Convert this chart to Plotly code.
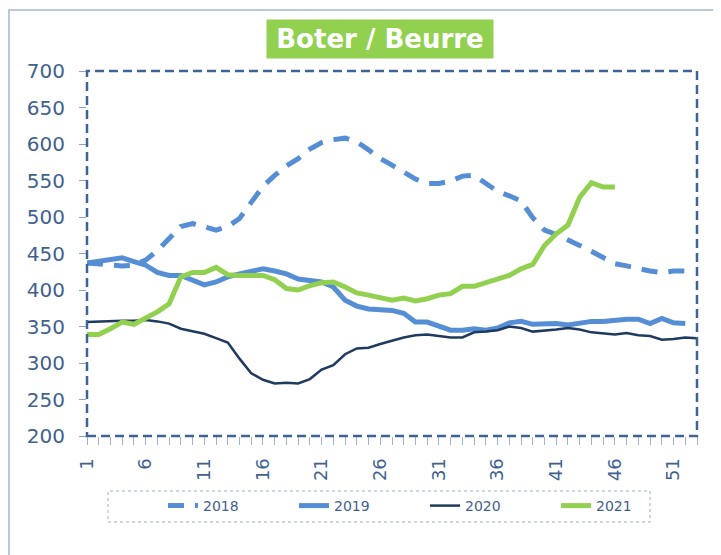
import plotly.graph_objects as go

weeks = list(range(1, 54))

v2018 = [437, 436, 434, 433, 434, 441, 454, 470, 487, 491,
         487, 482, 487, 498, 520, 542, 557, 570, 580, 593,
         602, 606, 608, 603, 592, 580, 571, 561, 552, 546,
         546, 549, 556, 557, 547, 535, 529, 522, 499, 482,
         476, 469, 461, 453, 444, 436, 433, 429, 426, 424,
         426, 426]

v2019 = [437, 439, 441, 444, 439, 434, 424, 420, 420, 413,
         407, 411, 418, 422, 425, 429, 426, 422, 415, 413,
         411, 404, 386, 378, 374, 373, 372, 368, 356, 356,
         350, 345, 345, 347, 345, 348, 355, 357, 353, 354,
         354, 352, 354, 357, 357, 359, 360, 360, 354, 361,
         355, 354]

v2020 = [356, 357, 358, 358, 358, 359, 357, 354, 347, 344,
         340, 334, 328, 306, 286, 277, 272, 273, 272, 278,
         291, 297, 312, 320, 321, 326, 331, 335, 338, 339,
         337, 335, 335, 342, 343, 345, 350, 348, 343, 344,
         346, 348, 346, 342, 341, 339, 341, 338, 337, 332,
         333, 335, 334]

v2021 = [339, 339, 347, 356, 353, 361, 370, 381, 418, 424,
         424, 431, 421, 420, 420, 420, 414, 402, 400, 406,
         410, 411, 404, 396, 393, 389, 386, 389, 385, 388,
         393, 395, 405, 405, 410, 415, 420, 429, 435, 461,
         477, 489, 527, 547, 541, 541]

series_names = ["2018", "2019", "2020", "2021"]
y_ticks = [200, 250, 300, 350, 400, 450, 500, 550, 600, 650, 700]
x_label_ticks = [1, 6, 11, 16, 21, 26, 31, 36, 41, 46, 51]
title_text = "Boter / Beurre"

TXT = "#41618F"
FRAME = "#3E6496"

fig = go.Figure()
fig.add_trace(go.Scatter(x=weeks[:len(v2018)], y=v2018, name=series_names[0], mode="lines",
                         line=dict(color="#558ED5", width=5, dash="16px,11px")))
fig.add_trace(go.Scatter(x=weeks[:len(v2019)], y=v2019, name=series_names[1], mode="lines",
                         line=dict(color="#558ED5", width=5)))
fig.add_trace(go.Scatter(x=weeks[:len(v2020)], y=v2020, name=series_names[2], mode="lines",
                         line=dict(color="#1F3A5F", width=2.5)))
fig.add_trace(go.Scatter(x=weeks[:len(v2021)], y=v2021, name=series_names[3], mode="lines",
                         line=dict(color="#92D050", width=5)))

# page body has an 8px margin; figure is sized so that the page matches 721x555
OFF = 8
W, H = 721 - OFF, 555 - OFF
L, T = 87 - OFF, 71 - OFF
R = W - (697 - OFF)
B = H - (436 - OFF)
pw = W - L - R
ph = H - T - B


def px(xp):
    return (xp - OFF - L) / pw


def py(yp):
    return (H - B - (yp - OFF)) / ph


fig.update_layout(
    width=W, height=H,
    margin=dict(l=L, r=R, t=T, b=B, pad=0, autoexpand=False),
    paper_bgcolor="white", plot_bgcolor="white",
    font=dict(family="DejaVu Sans", color=TXT),
    showlegend=True,
    legend=dict(orientation="h", x=px(163), xanchor="left", y=py(506), yanchor="middle",
                font=dict(size=14, color=TXT, family="DejaVu Sans"),
                bgcolor="rgba(0,0,0,0)", borderwidth=0,
                entrywidth=86, entrywidthmode="pixels", tracegroupgap=0),
    xaxis=dict(range=[1, 53], showgrid=False, zeroline=False, showline=False,
               tickmode="array", tickvals=x_label_ticks, ticktext=[str(v) for v in x_label_ticks],
               tickangle=-90, ticks="outside", ticklen=8, tickcolor="#9FB3CF", tickwidth=1,
               ticklabelstandoff=6,
               minor=dict(ticks="outside", dtick=1, tick0=1, ticklen=8, tickcolor="#9FB3CF", tickwidth=1),
               tickfont=dict(size=18, color=TXT, family="DejaVu Sans")),
    yaxis=dict(range=[200, 700], showgrid=False, zeroline=False, showline=False,
               tickmode="array", tickvals=y_ticks,
               ticks="outside", ticklen=7, tickcolor="#8AA2C4", tickwidth=1,
               ticklabelstandoff=10,
               tickfont=dict(size=20, color=TXT, family="DejaVu Sans")),
    shapes=[
        dict(type="rect", xref="paper", yref="paper", x0=0, x1=1, y0=0, y1=1,
             line=dict(color=FRAME, width=2.5, dash="9px,5px"), layer="above"),
        dict(type="rect", xref="paper", yref="paper", x0=px(9), x1=px(760), y0=py(10), y1=py(600),
             line=dict(color="#A3B6CE", width=1.5), layer="below"),
        dict(type="rect", xref="paper", yref="paper", x0=px(108), x1=px(650), y0=py(522), y1=py(491),
             line=dict(color="#9AAFC9", width=1, dash="dot"), layer="below"),
    ],
    annotations=[
        dict(text=title_text, xref="paper", yref="paper", x=px(379.5), y=py(39),
             xanchor="center", yanchor="middle", showarrow=False,
             bgcolor="#92D050", width=226, height=38, borderpad=0, align="center", valign="middle",
             font=dict(family="DejaVu Sans", size=26, color="white", weight="bold")),
    ],
)

fig.write_html("out.html")
